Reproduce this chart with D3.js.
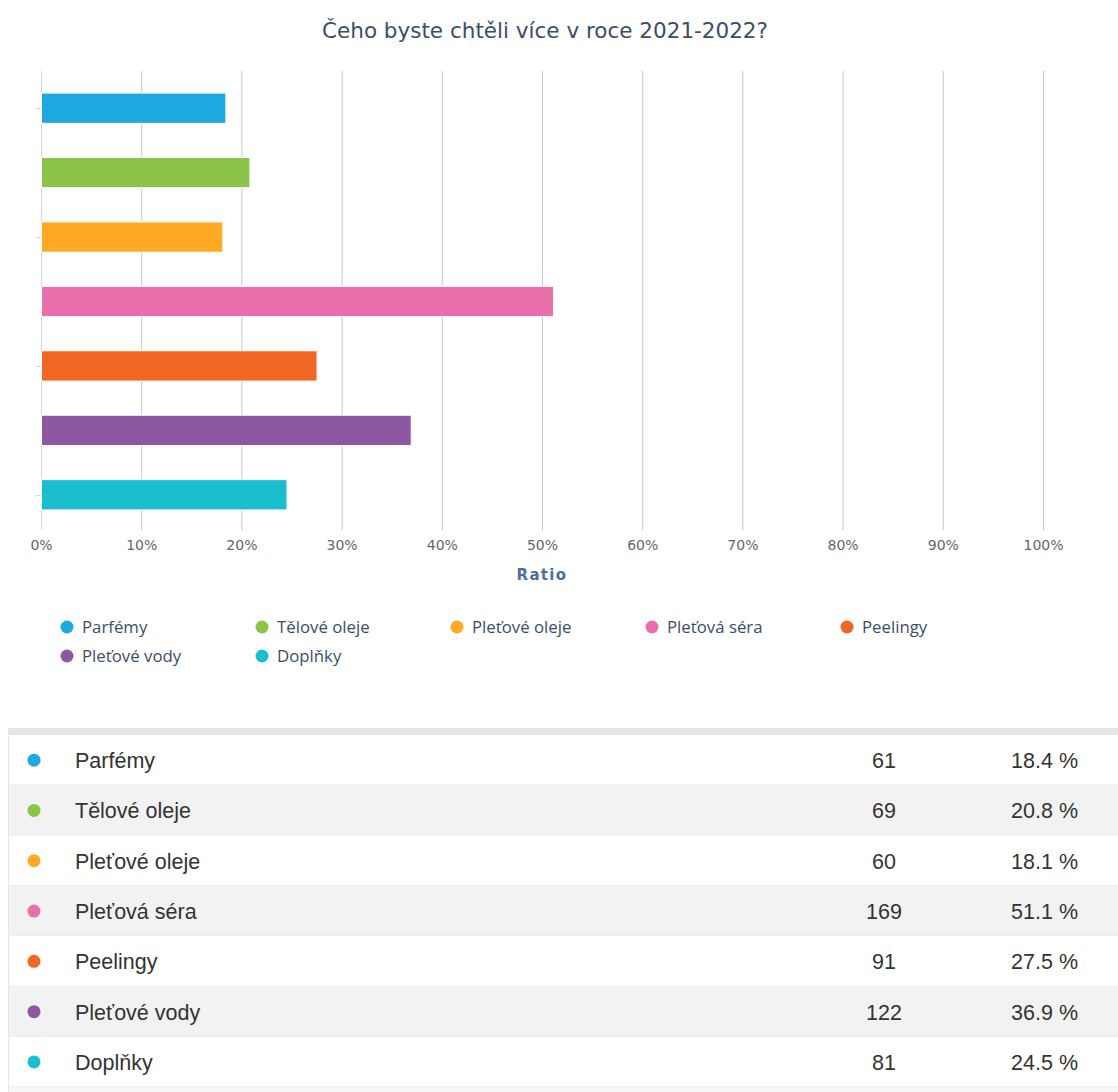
<!DOCTYPE html>
<html>
<head>
<meta charset="utf-8">
<script src="https://cdn.jsdelivr.net/npm/d3@7"></script>
<style>
  html, body { margin: 0; padding: 0; background: #fff; }
  svg { display: block; }
</style>
</head>
<body>
<svg id="chart" width="1118" height="1092"></svg>
<script>
// Survey answers: what people would like more of in 2021-2022
const categories = ["Parfémy", "Tělové oleje", "Pleťové oleje", "Pleťová séra", "Peelingy", "Pleťové vody", "Doplňky"];
const counts = [61, 69, 60, 169, 91, 122, 81];
const percents = [18.4, 20.8, 18.1, 51.1, 27.5, 36.9, 24.5];
const colors = ["#1fa9e1", "#8bc448", "#fda924", "#e86fab", "#f06724", "#8d57a2", "#1bbecf"];
const xTicks = [0, 10, 20, 30, 40, 50, 60, 70, 80, 90, 100];

const svg = d3.select("#chart");

// Title
svg.append("text")
  .attr("x", 545).attr("y", 38)
  .attr("text-anchor", "middle")
  .style("font-family", "'DejaVu Sans', sans-serif")
  .style("font-size", "21.5px")
  .style("fill", "#3b4e66")
  .text("Čeho byste chtěli více v roce 2021-2022?");

// Plot area
const plotLeft = 41, plotRight = 1043, plotTop = 71, plotBottom = 530;
const x = d3.scaleLinear().domain([0, 100]).range([plotLeft, plotRight]);
const y = d3.scaleBand().domain(categories).range([76, 527]).paddingInner(0.53).paddingOuter(0.265);

// Vertical grid lines
svg.append("g").selectAll("line")
  .data(xTicks.filter(t => t > 0))
  .join("line")
  .attr("x1", d => x(d) + 0.5).attr("x2", d => x(d) + 0.5)
  .attr("y1", plotTop).attr("y2", plotBottom)
  .attr("stroke", "#c8c8c8").attr("stroke-width", 1);

// Category axis line
svg.append("line")
  .attr("x1", plotLeft + 0.5).attr("x2", plotLeft + 0.5)
  .attr("y1", plotTop).attr("y2", plotBottom)
  .attr("stroke", "#ccd6eb").attr("stroke-width", 1);

// Category ticks on every other category
svg.append("g").selectAll("line")
  .data(categories.filter((c, i) => i % 2 === 0))
  .join("line")
  .attr("x1", plotLeft - 5).attr("x2", plotLeft)
  .attr("y1", d => Math.round(y(d) + y.bandwidth() / 2) + 0.5)
  .attr("y2", d => Math.round(y(d) + y.bandwidth() / 2) + 0.5)
  .attr("stroke", "#ccd6eb").attr("stroke-width", 1);

// Bars
svg.append("g").selectAll("rect")
  .data(categories)
  .join("rect")
  .attr("x", plotLeft + 0.5)
  .attr("y", d => y(d))
  .attr("width", (d, i) => x(percents[i]) - plotLeft)
  .attr("height", y.bandwidth())
  .attr("fill", (d, i) => colors[i])
  .attr("stroke", "#fff").attr("stroke-width", 1);

// X axis labels
const xAxis = d3.axisBottom(x)
  .tickValues(xTicks)
  .tickFormat(d => d + "%")
  .tickSize(0)
  .tickPadding(10);
const gx = svg.append("g")
  .attr("transform", `translate(0,${plotBottom})`)
  .call(xAxis);
gx.select(".domain").remove();
gx.selectAll("text")
  .style("font-family", "'DejaVu Sans', sans-serif")
  .style("font-size", "14px")
  .style("fill", "#666");

// X axis title
svg.append("text")
  .attr("x", 542).attr("y", 580)
  .attr("text-anchor", "middle")
  .style("font-family", "'DejaVu Sans', sans-serif")
  .style("font-size", "15px")
  .style("font-weight", "bold")
  .style("letter-spacing", "1.3px")
  .style("fill", "#4e7098")
  .text("Ratio");

// Legend
const legend = svg.append("g").selectAll("g")
  .data(categories)
  .join("g")
  .attr("transform", (d, i) => `translate(${67 + (i % 5) * 195},${627 + Math.floor(i / 5) * 29})`);
legend.append("circle")
  .attr("r", 6.5)
  .attr("fill", (d, i) => colors[i]);
legend.append("text")
  .attr("x", 15).attr("y", 6)
  .style("font-family", "'Open Sans', sans-serif")
  .style("font-size", "16.8px")
  .style("fill", "#3b4e66")
  .text(d => d);

// Summary table
const tableTop = 735, rowH = 50.3, tableLeft = 8, tableRight = 1118;
svg.append("rect")
  .attr("x", tableLeft).attr("y", 728)
  .attr("width", tableRight - tableLeft).attr("height", 7)
  .attr("fill", "#e6e6e6");
svg.append("rect")
  .attr("x", tableLeft).attr("y", tableTop + rowH * categories.length)
  .attr("width", tableRight - tableLeft).attr("height", 1092 - (tableTop + rowH * categories.length))
  .attr("fill", "#f7f7f7");

const rows = svg.append("g").selectAll("g")
  .data(categories)
  .join("g")
  .attr("transform", (d, i) => `translate(0,${tableTop + i * rowH})`);
rows.append("rect")
  .attr("x", tableLeft).attr("y", 0)
  .attr("width", tableRight - tableLeft).attr("height", rowH)
  .attr("fill", (d, i) => i % 2 === 1 ? "#f2f2f2" : "#ffffff");
rows.append("line")
  .attr("x1", tableLeft).attr("x2", tableRight)
  .attr("y1", rowH - 0.5).attr("y2", rowH - 0.5)
  .attr("stroke", "#ebebeb").attr("stroke-width", 1);
rows.append("circle")
  .attr("cx", 34).attr("cy", rowH / 2)
  .attr("r", 6.5)
  .attr("fill", (d, i) => colors[i]);
const cellFont = "'Liberation Sans', Arial, sans-serif";
rows.append("text")
  .attr("x", 75).attr("y", rowH / 2 + 8)
  .style("font-family", cellFont).style("font-size", "21.5px").style("fill", "#333")
  .text(d => d);
rows.append("text")
  .attr("x", 884).attr("y", rowH / 2 + 8)
  .attr("text-anchor", "middle")
  .style("font-family", cellFont).style("font-size", "21.5px").style("fill", "#333")
  .text((d, i) => counts[i]);
rows.append("text")
  .attr("x", 1078).attr("y", rowH / 2 + 8)
  .attr("text-anchor", "end")
  .style("font-family", cellFont).style("font-size", "21.5px").style("fill", "#333")
  .text((d, i) => percents[i].toFixed(1) + " %");

// Left border of table
svg.append("line")
  .attr("x1", tableLeft + 0.5).attr("x2", tableLeft + 0.5)
  .attr("y1", tableTop).attr("y2", 1092)
  .attr("stroke", "#e6e6e6");
</script>
</body>
</html>
